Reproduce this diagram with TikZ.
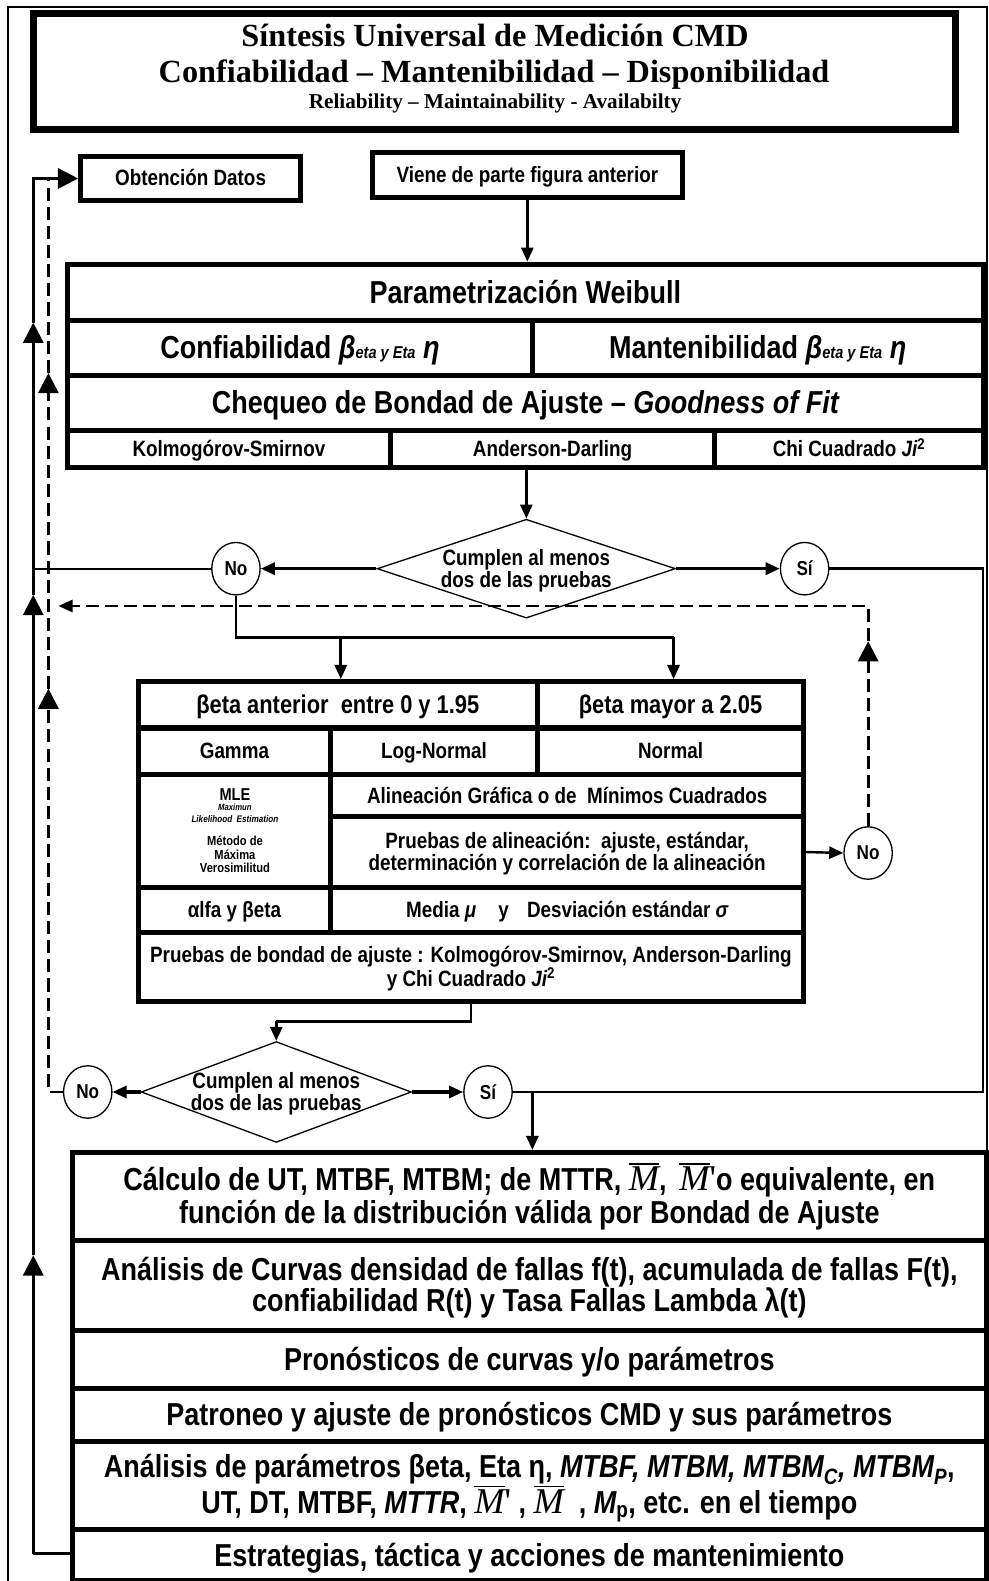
\documentclass[tikz,border=0pt]{standalone}
\usepackage{fontspec}
\setmainfont{Liberation Sans}[FakeStretch=0.85]
\newfontfamily\titlefont{Liberation Serif}
\newfontfamily\symbserif{Liberation Serif}
\usetikzlibrary{arrows.meta,shapes.geometric}

% font sizes
\newcommand\fsL{\fontsize{31.5pt}{32pt}\selectfont}
\newcommand\fsH{\fontsize{25.5pt}{27pt}\selectfont}
\newcommand\fsM{\fontsize{22pt}{22pt}\selectfont}
\newcommand\fsE{\fontsize{17pt}{17pt}\selectfont}
% common top and bottom extent, so that text sits at the same height in every cell
\newcommand\phtop{\vphantom{Á}}
\newcommand\phbot{\vphantom{g}}
% serif italic M with a bar
\newcommand\Mbar{\leavevmode\vbox{\hrule height 1.4pt\kern 2.5pt\hbox{\symbserif\mdseries\itshape\fontsize{36pt}{36pt}\selectfont M}}}
\newcommand\Mprime{\hbox{\symbserif\mdseries\fontsize{36pt}{36pt}\selectfont '}}

% a table cell given by its corners, its font and its text
\newcommand\cellnode[7]{%
  \pgfmathsetmacro\cellcx{(#2+#4)/2}%
  \pgfmathsetmacro\cellcy{(#3+#5)/2}%
  \pgfmathsetmacro\cellw{#4-#2}%
  \pgfmathsetmacro\cellh{#5-#3}%
  \node[cellbox, minimum width=\cellw pt, minimum height=\cellh pt, font=\bfseries#6] (#1) at (\cellcx,\cellcy) {\phtop#7\phbot};}

\tikzset{
  cellbox/.style={draw, line width=5pt, inner sep=0pt, align=center},
  ovalbox/.style={draw, ellipse, line width=1.3pt, minimum width=48pt, minimum height=52pt,
    inner sep=0pt, font=\bfseries\fontsize{20pt}{20pt}\selectfont},
  decision/.style={draw, diamond, line width=1.3pt, inner sep=0pt},
  txt/.style={inner sep=0pt, align=center, font=\bfseries},
  connector/.style={line width=2.6pt},
  flow/.style={line width=2.6pt, -{Triangle[length=14pt,width=12pt]}},
  upflow/.style={line width=2.6pt, -{Triangle[length=20pt,width=20pt]}},
  dashflow/.style={line width=2.8pt, dash pattern=on 13pt off 6pt},
}

\begin{document}
\begin{tikzpicture}[x=1pt,y=-1pt]
\useasboundingbox (0,0) rectangle (980,1568);
\fill[white] (0,0) rectangle (980,1568);

% outer frame
\draw[line width=1.5pt] (8,1572) -- (8,7) -- (979,7) -- (979,1572);

% title block
\node[draw, line width=7pt, minimum width=915pt, minimum height=115pt] (title) at (490.5,70.5) {};
\node[txt, font=\titlefont\bfseries\fontsize{32pt}{32pt}\selectfont, anchor=base] (tl1) at (491,46) {Síntesis Universal de Medición CMD};
\node[txt, font=\titlefont\bfseries\fontsize{32pt}{32pt}\selectfont, anchor=base] (tl2) at (490,82) {Confiabilidad – Mantenibilidad – Disponibilidad};
\node[txt, font=\titlefont\bfseries\fontsize{21pt}{21pt}\selectfont, anchor=base] (tl3) at (491,108) {Reliability – Maintainability - Availabilty};

% entry boxes
\cellnode{obt}{80}{155}{298}{199}{\fsM}{Obtención Datos}
\cellnode{vien}{369}{151}{677}{196}{\fsM}{Viene de parte figura anterior}

% Weibull parametrisation table
\cellnode{wb}{67}{262}{975}{318}{\fsL}{Parametrización Weibull}
\cellnode{conf}{67}{318}{528}{372}{\fsL}{Confiabilidad {\itshape β{\fsE eta y Eta} η}}
\cellnode{mant}{528}{318}{975}{372}{\fsL}{Mantenibilidad {\itshape β{\fsE eta y Eta} η}}
\cellnode{chq}{67}{372}{975}{427}{\fsL}{Chequeo de Bondad de Ajuste – {\itshape Goodness of Fit}}
\cellnode{ks}{67}{427}{387}{464}{\fsM}{Kolmogórov-Smirnov}
\cellnode{ad}{387}{427}{709}{464}{\fsM}{Anderson-Darling}
\cellnode{chi}{709}{427}{975}{464}{\fsM}{Chi Cuadrado {\itshape Ji}\textsuperscript{2}}

% first decision
\node[decision, minimum width=296pt, minimum height=98pt] (d1) at (522,564) {};
\node[txt, font=\bfseries\fsM] (d1t) at ([yshift=-2pt]d1.center) {Cumplen al menos\\dos de las pruebas};
\node[ovalbox] (no1) at (234,564) {No};
\node[ovalbox] (si1) at (798,564) {Sí};

% alternative distributions table
\cellnode{ba}{137}{676}{533}{722}{\fsH}{βeta anterior\ \ entre 0 y 1.95}
\cellnode{bm}{533}{676}{797}{722}{\fsH}{βeta mayor a 2.05}
\cellnode{gam}{137}{722}{328}{768}{\fsM}{Gamma}
\cellnode{lgn}{328}{722}{533}{768}{\fsM}{Log-Normal}
\cellnode{nrm}{533}{722}{797}{768}{\fsM}{Normal}
\cellnode{mle}{137}{768}{328}{880}{}{}
\cellnode{alg}{328}{768}{797}{810}{\fsM}{Alineación Gráfica o de\ \ Mínimos Cuadrados}
\cellnode{pal}{328}{810}{797}{880}{\fontsize{22pt}{21pt}\selectfont}{Pruebas de alineación:\ \ ajuste, estándar,\\determinación y correlación de la alineación}
\cellnode{ab}{137}{880}{328}{925}{\fsM}{αlfa y βeta}
\cellnode{msd}{328}{880}{797}{925}{\fsM}{Media {\itshape μ}\hspace{22pt}y\hspace{18pt}Desviación estándar {\itshape σ}}
\cellnode{pba}{137}{925}{797}{993}{\fontsize{22pt}{23pt}\selectfont}{Pruebas de bondad de ajuste : Kolmogórov-Smirnov, Anderson-Darling\\y Chi Cuadrado {\itshape Ji}\textsuperscript{2}}

\node[txt, font=\bfseries\fontsize{17pt}{17pt}\selectfont] (mleA) at (233,788) {MLE};
\node[txt, font=\bfseries\itshape\fontsize{9pt}{9pt}\selectfont] (mleB) at (233,801) {Maximun};
\node[txt, font=\bfseries\itshape\fontsize{9.5pt}{9.5pt}\selectfont] (mleC) at (233,812) {Likelihood\ \ Estimation};
\node[txt, font=\bfseries\fontsize{13pt}{13pt}\selectfont] (mleD) at (233,834) {Método de};
\node[txt, font=\bfseries\fontsize{13pt}{13pt}\selectfont] (mleE) at (233,848) {Máxima};
\node[txt, font=\bfseries\fontsize{13pt}{13pt}\selectfont] (mleF) at (233,861) {Verosimilitud};

\node[ovalbox] (no3) at (861,846) {No};

% second decision
\node[decision, minimum width=268pt, minimum height=100pt] (d2) at (274,1083) {};
\node[txt, font=\bfseries\fsM] (d2t) at ([yshift=-2pt]d2.center) {Cumplen al menos\\dos de las pruebas};
\node[ovalbox] (no2) at (87,1083) {No};
\node[ovalbox] (si2) at (484,1083) {Sí};

% result chain
\cellnode{calc}{72}{1143}{978}{1230}{\fontsize{31.5pt}{32pt}\selectfont}{Cálculo de UT, MTBF, MTBM; de MTTR,\ \Mbar,\ \,\Mbar\Mprime o equivalente, en\\función de la distribución\ válida por Bondad de Ajuste}
\cellnode{curv}{72}{1230}{978}{1320}{\fontsize{31.5pt}{31pt}\selectfont}{Análisis de Curvas densidad de fallas f(t), acumulada de fallas F(t),\\confiabilidad R(t) y Tasa Fallas Lambda λ(t)}
\cellnode{pron}{72}{1320}{978}{1377}{\fsL}{Pronósticos de curvas y/o parámetros}
\cellnode{patr}{72}{1377}{978}{1430}{\fsL}{Patroneo y ajuste de pronósticos CMD y sus parámetros}
\cellnode{parm}{72}{1430}{978}{1517}{\fontsize{31.5pt}{32pt}\selectfont}{Análisis de parámetros βeta, Eta η, {\itshape MTBF, MTBM, MTBM\textsubscript{C}, MTBM\textsubscript{P}},\\UT, DT, MTBF, {\itshape MTTR}, \Mbar\Mprime\ , \Mbar\ \ , {\itshape M}\textsubscript{p}, etc. en el tiempo}
\cellnode{estr}{72}{1517}{978}{1568}{\fsL}{Estrategias, táctica y acciones de mantenimiento}

% bend points
\coordinate (nobend) at (234,632);
\coordinate (noright) at (668,632);
\coordinate (nosplit) at (338,632);
\coordinate (sitop) at (975,564);
\coordinate (sibot) at (975,1083);
\coordinate (sijoin) at (528,1083);
\coordinate (outbend) at (467,1013);
\coordinate (inbend) at (274,1013);
\coordinate (slbot) at (33,1541);
\coordinate (sla) at (33,1245);
\coordinate (slb) at (33,590);
\coordinate (slc) at (33,320);
\coordinate (sltop) at (33,177);
\coordinate (nojoin) at (33,564);
\coordinate (dlbot) at (48,1083);
\coordinate (dla) at (48,683);
\coordinate (dlb) at (48,370);
\coordinate (dltop) at (48,177);
\coordinate (drmid) at (861,636);
\coordinate (drtop) at (861,601);
\coordinate (drend) at (58,601);

% main flow
\draw[flow] (vien.south) -- (vien.south |- wb.north);
\draw[flow] (d1.north |- ad.south) -- (d1.north);
\draw[flow, line width=3pt] (d1.west) -- (no1.east);
\draw[flow, line width=3pt] (d1.east) -- (si1.west);
\draw[connector, line width=2pt] (no1.west) -- (nojoin);
\draw[connector] (no1.south) -- (nobend) -- (noright);
\draw[flow] (nosplit) -- (nosplit |- ba.north);
\draw[flow] (noright) -- (noright |- bm.north);
\draw[flow, line width=2.4pt] (pal.east) -- (no3.west);
\draw[connector] (pba.south) -- (outbend) -- (inbend);
\draw[flow] (inbend) -- (d2.north);
\draw[flow, line width=3pt] (d2.west) -- (no2.east);
\draw[flow, line width=3pt] (d2.east) -- (si2.west);
\draw[connector] (si1.east) -- (sitop) -- (sibot) -- (si2.east);
\draw[flow] (sijoin) -- (sijoin |- calc.north);

% solid return to data collection
\draw[connector] (estr.west |- slbot) -- (slbot);
\draw[upflow] (slbot) -- (sla);
\draw[upflow] (sla) -- (slb);
\draw[upflow] (slb) -- (slc);
\draw[upflow] (slc) -- (sltop) -- (obt.west |- sltop);

% dashed returns
\draw[dashflow, -{Triangle[length=20pt,width=20pt]}] (no2.west) -- (dlbot) -- (dla);
\draw[dashflow, -{Triangle[length=20pt,width=20pt]}] (dla) -- (dlb);
\draw[dashflow] (dlb) -- (dltop);
\draw[dashflow, -{Triangle[length=20pt,width=20pt]}] (no3.north) -- (drmid);
\draw[dashflow, -{Triangle[length=14pt,width=12pt]}] (drmid) -- (drtop) -- (drend);
\end{tikzpicture}
\end{document}
